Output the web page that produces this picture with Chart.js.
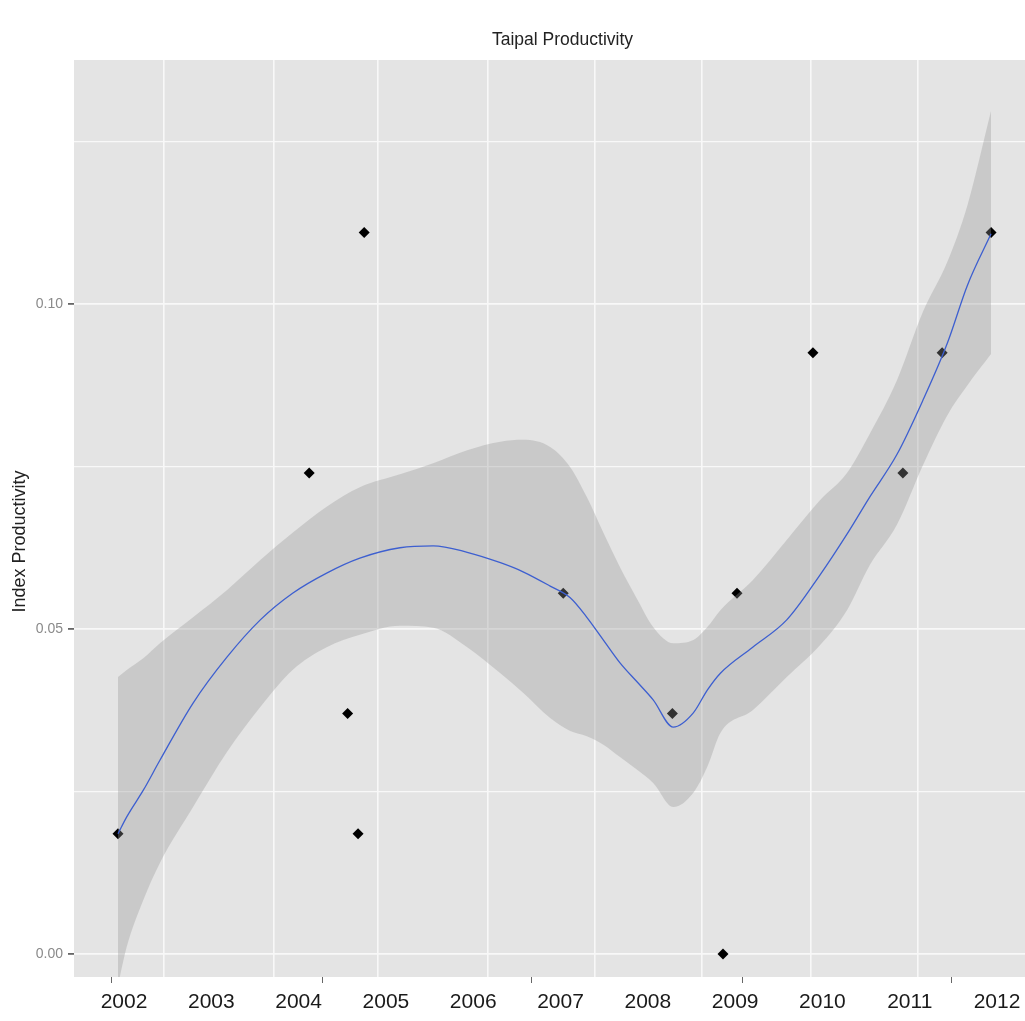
<!DOCTYPE html>
<html>
<head>
<meta charset="utf-8">
<title>Taipal Productivity</title>
<script src="https://cdn.jsdelivr.net/npm/chart.js@4/dist/chart.umd.min.js"></script>
<style>
  html, body { margin: 0; padding: 0; background: #ffffff; }
  #wrap { width: 1025px; height: 1021px; position: relative; }
</style>
</head>
<body>
<div id="wrap"><canvas id="chart" width="1025" height="1021"></canvas></div>
<script>
// Observed productivity index by (decimal) year
const pointYears  = [2002.00, 2004.19, 2004.63, 2004.75, 2004.82, 2007.10, 2008.35, 2008.93, 2009.09, 2009.96, 2010.99, 2011.44, 2012.00];
const pointValues = [0.0185, 0.0740, 0.0370, 0.0185, 0.1110, 0.0555, 0.0370, 0.0000, 0.0555, 0.0925, 0.0740, 0.0925, 0.1110];

// Loess smooth with its confidence band
const smoothYears = [2002.00, 2002.10, 2002.29, 2002.48, 2002.86, 2003.25, 2003.63, 2004.00, 2004.39, 2004.77,
                     2005.23, 2005.61, 2006.00, 2006.38, 2006.64, 2006.95, 2007.18, 2007.37, 2007.56, 2007.75,
                     2007.95, 2008.13, 2008.36, 2008.59, 2008.75, 2008.90, 2009.27, 2009.66, 2010.04, 2010.35,
                     2010.61, 2010.92, 2011.22, 2011.50, 2011.73, 2012.00];
const smoothFit   = [0.0185, 0.0211, 0.0252, 0.0298, 0.0386, 0.0457, 0.0514, 0.0555, 0.0586, 0.0609,
                     0.0625, 0.0628, 0.0618, 0.0602, 0.0588, 0.0566, 0.0548, 0.0518, 0.0483, 0.0448,
                     0.0418, 0.0391, 0.0349, 0.0371, 0.0406, 0.0432, 0.0472, 0.0514, 0.0583, 0.0646,
                     0.0703, 0.0768, 0.0852, 0.0940, 0.1029, 0.1108];
const smoothLow   = [-0.0048, 0.0011, 0.0083, 0.0140, 0.0226, 0.0311, 0.0380, 0.0437, 0.0472, 0.0491,
                     0.0505, 0.0502, 0.0472, 0.0432, 0.0402, 0.0363, 0.0343, 0.0335, 0.0322, 0.0303,
                     0.0283, 0.0263, 0.0226, 0.0248, 0.0288, 0.0340, 0.0375, 0.0426, 0.0475, 0.0529,
                     0.0598, 0.0660, 0.0752, 0.0829, 0.0875, 0.0923];
const smoothHigh  = [0.0426, 0.0437, 0.0455, 0.0478, 0.0518, 0.0560, 0.0606, 0.0648, 0.0688, 0.0718,
                     0.0738, 0.0755, 0.0775, 0.0788, 0.0791, 0.0780, 0.0749, 0.0703, 0.0648, 0.0595,
                     0.0545, 0.0503, 0.0478, 0.0483, 0.0503, 0.0529, 0.0575, 0.0637, 0.0698, 0.0740,
                     0.0800, 0.0882, 0.0988, 0.1065, 0.1152, 0.1297];

// Axis ticks, labels and grid positions
const yearLabels   = [2002, 2003, 2004, 2005, 2006, 2007, 2008, 2009, 2010, 2011, 2012];
const xTickMarks   = [2001.93, 2004.34, 2006.74, 2009.15, 2011.55];
const xGridLines   = [2002.53, 2003.78, 2004.98, 2006.24, 2007.46, 2008.69, 2009.93, 2011.16];
const yGridValues  = [0.000, 0.025, 0.050, 0.075, 0.100, 0.125];
const yLabelValues = [0.00, 0.05, 0.10];
const xRange = [2001.496, 2012.389];
const yRange = [-0.00354, 0.13754];

const toXY = (xs, ys) => xs.map((x, i) => ({ x: x, y: ys[i] }));
const isLabelled = v => yLabelValues.some(l => Math.abs(l - v) < 1e-9);

const panelBackground = {
  id: 'panelBackground',
  beforeDraw(chart) {
    const { ctx, chartArea: a } = chart;
    ctx.save();
    ctx.fillStyle = '#e4e4e4';
    ctx.fillRect(a.left, a.top, a.right - a.left, a.bottom - a.top);
    ctx.restore();
  }
};

const headings = {
  id: 'headings',
  afterDraw(chart) {
    const { ctx, chartArea: a } = chart;
    ctx.save();
    ctx.fillStyle = '#222222';
    ctx.textAlign = 'center';
    ctx.textBaseline = 'middle';
    ctx.font = '17.5px "Liberation Sans", Arial, sans-serif';
    ctx.fillText('Taipal Productivity', (a.left + a.right) / 2 + 13, 40);
    ctx.translate(20, (a.top + a.bottom) / 2 + 23);
    ctx.rotate(-Math.PI / 2);
    ctx.font = '18px "Liberation Sans", Arial, sans-serif';
    ctx.fillText('Index Productivity', 0, 0);
    ctx.restore();
  }
};

new Chart(document.getElementById('chart'), {
  type: 'scatter',
  data: {
    datasets: [
      {
        label: 'observed',
        data: toXY(pointYears, pointValues),
        pointStyle: 'rectRot',
        pointRadius: 5.5,
        backgroundColor: '#000000',
        borderWidth: 0,
        order: 3
      },
      {
        label: 'upper',
        type: 'line',
        data: toXY(smoothYears, smoothHigh),
        borderWidth: 0,
        pointRadius: 0,
        fill: '+1',
        backgroundColor: 'rgba(150,150,150,0.34)',
        cubicInterpolationMode: 'monotone',
        order: 2
      },
      {
        label: 'lower',
        type: 'line',
        data: toXY(smoothYears, smoothLow),
        borderWidth: 0,
        pointRadius: 0,
        fill: false,
        cubicInterpolationMode: 'monotone',
        order: 2
      },
      {
        label: 'fit',
        type: 'line',
        data: toXY(smoothYears, smoothFit),
        borderColor: '#3d5fd0',
        borderWidth: 1.3,
        pointRadius: 0,
        fill: false,
        cubicInterpolationMode: 'monotone',
        order: 1
      }
    ]
  },
  options: {
    responsive: false,
    animation: false,
    events: [],
    layout: { autoPadding: false, padding: { top: 60, right: 0, left: 0, bottom: 0 } },
    plugins: { legend: { display: false }, tooltip: { enabled: false }, title: { display: false } },
    scales: {
      x: {
        type: 'linear', position: 'bottom', weight: 1,
        min: xRange[0], max: xRange[1],
        grid: { display: false, drawTicks: false },
        border: { display: false },
        ticks: {
          autoSkip: false, maxRotation: 0, padding: 5, labelOffset: 6,
          color: '#1a1a1a',
          font: { family: '"Liberation Sans", Arial, sans-serif', size: 21 },
          callback: v => String(v)
        },
        afterBuildTicks: s => { s.ticks = yearLabels.map(v => ({ value: v })); },
        afterFit: s => { s.height = 36; }
      },
      xt: {
        type: 'linear', position: 'bottom', weight: 0,
        min: xRange[0], max: xRange[1],
        grid: { drawOnChartArea: false, drawTicks: true, tickLength: 6, tickColor: '#666666', lineWidth: 1 },
        border: { display: false },
        ticks: { display: false },
        afterBuildTicks: s => { s.ticks = xTickMarks.map(v => ({ value: v })); },
        afterFit: s => { s.height = 8; }
      },
      xg: {
        type: 'linear', position: 'bottom', weight: 2,
        min: xRange[0], max: xRange[1],
        grid: { drawOnChartArea: true, drawTicks: false, color: '#f8f8f8', lineWidth: 1.6 },
        border: { display: false },
        ticks: { display: false },
        afterBuildTicks: s => { s.ticks = xGridLines.map(v => ({ value: v })); },
        afterFit: s => { s.height = 0; }
      },
      y: {
        type: 'linear', position: 'left',
        min: yRange[0], max: yRange[1],
        grid: {
          color: '#f8f8f8',
          lineWidth: c => (c.tick && isLabelled(c.tick.value)) ? 1.8 : 1.2,
          tickLength: 6,
          tickColor: c => (c.tick && isLabelled(c.tick.value)) ? '#666666' : 'rgba(0,0,0,0)'
        },
        border: { display: false },
        ticks: {
          padding: 5,
          color: '#8a8a8a',
          font: { family: '"Liberation Sans", Arial, sans-serif', size: 14 },
          callback: v => isLabelled(v) ? v.toFixed(2) : ''
        },
        afterBuildTicks: s => { s.ticks = yGridValues.map(v => ({ value: v })); },
        afterFit: s => { s.width = 74; }
      }
    }
  },
  plugins: [panelBackground, headings]
});
</script>
</body>
</html>
